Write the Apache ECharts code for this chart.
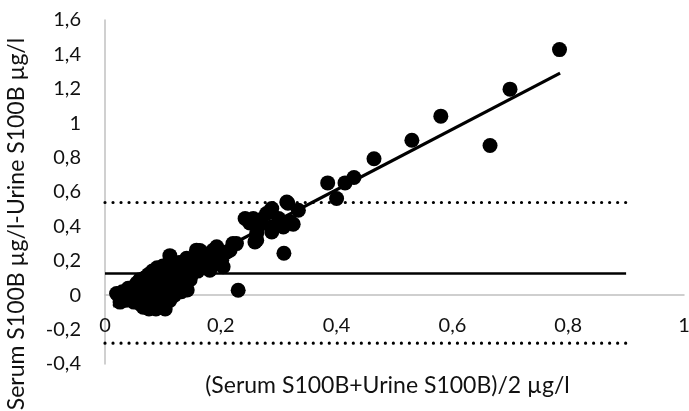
<!DOCTYPE html>
<html>
<head>
<meta charset="utf-8">
<script src="https://cdn.jsdelivr.net/npm/echarts@6/dist/echarts.min.js"></script>
<style>
  html, body { margin: 0; padding: 0; background: #fff; }
  #main { width: 689px; height: 411px; }
</style>
</head>
<body>
<div id="main"></div>
<script>
// axis ticks
let xTicks = [0, 0.2, 0.4, 0.6, 0.8, 1];
let yTicks = [-0.4, -0.2, 0, 0.2, 0.4, 0.6, 0.8, 1, 1.2, 1.4, 1.6];

// mean of the two methods (x) vs difference serum - urine (y)
let points = [
    [0.02, 0.01], [0.025, -0.01], [0.026, -0.04], [0.03, 0.02], [0.035, 0.0], [0.035, -0.03],
    [0.04, 0.04], [0.042, 0.01], [0.045, -0.02], [0.05, 0.05], [0.05, -0.04], [0.052, 0.02],
    [0.055, 0.07], [0.058, -0.01], [0.06, 0.09], [0.06, -0.05], [0.062, 0.04], [0.065, 0.0],
    [0.066, -0.07], [0.068, 0.1], [0.07, 0.06], [0.07, -0.03], [0.072, 0.02], [0.075, 0.12],
    [0.076, -0.08], [0.078, 0.08], [0.08, 0.04], [0.08, -0.02], [0.082, 0.14], [0.085, 0.0],
    [0.086, 0.1], [0.088, -0.08], [0.09, 0.06], [0.09, 0.16], [0.092, 0.03], [0.095, -0.04],
    [0.096, 0.12], [0.098, 0.08], [0.1, 0.17], [0.1, -0.01], [0.102, 0.04], [0.104, -0.08],
    [0.105, 0.14], [0.106, 0.1], [0.108, 0.02], [0.11, 0.06], [0.112, 0.23], [0.112, -0.03],
    [0.115, 0.18], [0.116, 0.12], [0.12, 0.0], [0.12, 0.08], [0.122, 0.15], [0.125, 0.04],
    [0.128, 0.19], [0.13, 0.1], [0.132, 0.02], [0.135, 0.14], [0.138, 0.06], [0.141, 0.215],
    [0.142, 0.03], [0.145, 0.17], [0.147, 0.09], [0.15, 0.12], [0.155, 0.19], [0.158, 0.262],
    [0.16, 0.14], [0.164, 0.26], [0.165, 0.22], [0.168, 0.17], [0.17, 0.203], [0.175, 0.24],
    [0.178, 0.16], [0.181, 0.145], [0.187, 0.262], [0.19, 0.2], [0.193, 0.281], [0.2, 0.22],
    [0.2015, 0.203], [0.204, 0.165], [0.21, 0.25], [0.216, 0.262], [0.221, 0.3], [0.227, 0.3],
    [0.23, 0.029], [0.242, 0.446], [0.25, 0.42], [0.256, 0.446], [0.259, 0.31], [0.262, 0.359],
    [0.262, 0.32], [0.265, 0.4], [0.27, 0.44], [0.279, 0.475], [0.285, 0.484], [0.288, 0.504],
    [0.288, 0.397], [0.288, 0.368], [0.3, 0.446], [0.308, 0.397], [0.309, 0.244], [0.314, 0.542],
    [0.316, 0.535], [0.32, 0.426], [0.325, 0.413], [0.334, 0.494], [0.3846, 0.653], [0.4, 0.562],
    [0.4145, 0.653], [0.43, 0.684], [0.4646, 0.793], [0.53, 0.901], [0.58, 1.041], [0.665, 0.87],
    [0.6995, 1.198], [0.785, 1.428]
];

// regression of difference on mean
let regLine = [[0.014, -0.064], [0.786, 1.291]];

// bias and limits of agreement
let meanDiff = 0.126;
let upperLoA = 0.539;
let lowerLoA = -0.279;
let refXEnd = 0.9;

let xTitle = '(Serum S100B+Urine S100B)/2 \u00b5g/l';
let yTitle = 'Serum S100B \u00b5g/l-Urine S100B \u00b5g/l';

function comma(v) {
    return String(+v.toFixed(2)).replace('.', ',');
}

let font = 'Lato';
let chart = echarts.init(document.getElementById('main'));

let dotted = { color: '#000', width: 3.2, type: [0.01, 8], cap: 'round' };

// x axis sits on y = 0: lift it from the grid bottom
let plotH = 411 - 20 - 47;
let zeroLift = plotH * (0 - yTicks[0]) / (yTicks[yTicks.length - 1] - yTicks[0]);

let option = {
    animation: false,
    grid: { left: 105, right: 5, top: 20, bottom: 47, containLabel: false, outerBoundsMode: 'none' },
    xAxis: {
        type: 'value',
        min: xTicks[0],
        max: xTicks[xTicks.length - 1],
        interval: 0.2,
        offset: -zeroLift,
        name: xTitle,
        nameLocation: 'middle',
        nameGap: 79,
        nameTextStyle: { fontFamily: font, fontSize: 23, color: '#111', padding: [0, 14, 0, 0] },
        axisLine: { onZero: false, lineStyle: { color: '#c0c0c0', width: 1.5 } },
        axisTick: { show: false },
        splitLine: { show: false },
        axisLabel: { fontFamily: font, fontSize: 20, color: '#111', margin: 20, formatter: comma }
    },
    yAxis: {
        type: 'value',
        min: yTicks[0],
        max: yTicks[yTicks.length - 1],
        interval: 0.2,
        name: yTitle,
        nameLocation: 'middle',
        nameGap: 77,
        nameTextStyle: { fontFamily: font, fontSize: 23, color: '#111', padding: [0, 64, 0, 0] },
        axisLine: { show: true, lineStyle: { color: '#c0c0c0', width: 1.5 } },
        axisTick: { show: false },
        splitLine: { show: false },
        axisLabel: { fontFamily: font, fontSize: 20, color: '#111', margin: 24, formatter: comma }
    },
    series: [
        {
            type: 'line',
            data: [[0, upperLoA], [refXEnd, upperLoA]],
            symbol: 'none',
            lineStyle: dotted,
            z: 1
        },
        {
            type: 'line',
            data: [[0, lowerLoA], [refXEnd, lowerLoA]],
            symbol: 'none',
            lineStyle: dotted,
            z: 1
        },
        {
            type: 'line',
            data: [[0, meanDiff], [refXEnd, meanDiff]],
            symbol: 'none',
            lineStyle: { color: '#000', width: 2.5 },
            z: 1
        },
        {
            type: 'scatter',
            data: points,
            symbolSize: 15,
            itemStyle: { color: '#000', opacity: 1 },
            z: 2
        },
        {
            type: 'line',
            data: regLine,
            symbol: 'none',
            lineStyle: { color: '#000', width: 3.2 },
            z: 3
        }
    ]
};
chart.setOption(option);
</script>
</body>
</html>
